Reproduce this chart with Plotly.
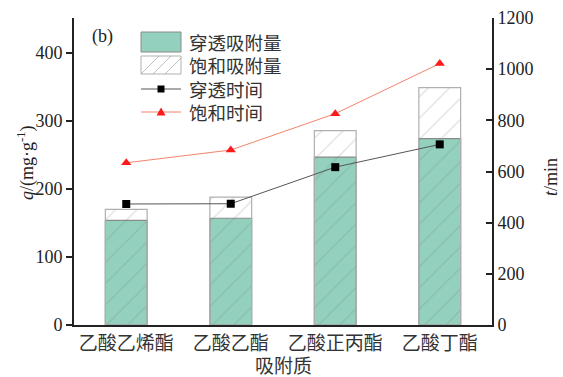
import plotly.graph_objects as go

categories = ["乙酸乙烯酯", "乙酸乙酯", "乙酸正丙酯", "乙酸丁酯"]
breakthrough_q = [154, 157, 247, 274]
saturation_q = [170, 188, 286, 349]
breakthrough_t = [473, 474, 617, 706]
saturation_t = [634, 684, 826, 1022]
legend_labels = ["穿透吸附量", "饱和吸附量", "穿透时间", "饱和时间"]

FONT = "Liberation Serif, Times New Roman, Noto Sans CJK SC, serif"
CJK = "Noto Sans CJK SC"
GREEN = "#93D1BE"

W, H = 563, 377
ML, MR, MT, MB = 74, 71, 18, 52
PW, PH = W - ML - MR, H - MT - MB


def px(x):
    return (x - ML) / PW


def py(y):
    return (H - MB - y) / PH


fig = go.Figure()
fig.add_trace(go.Bar(
    x=categories, y=breakthrough_q, name=legend_labels[0],
    marker=dict(color=GREEN, line=dict(color="#8a8a8a", width=1.2)),
    width=0.4,
))
fig.add_trace(go.Bar(
    x=categories, y=saturation_q, name=legend_labels[1],
    marker=dict(color="rgba(255,255,255,0)", line=dict(color="#b0b0b0", width=1.2),
                pattern=dict(shape="/", fgcolor="rgba(110,110,110,0.45)",
                             bgcolor="rgba(0,0,0,0)", size=15, solidity=0.08)),
    width=0.4,
))
fig.add_trace(go.Scatter(
    x=categories, y=breakthrough_t, name=legend_labels[2], yaxis="y2",
    mode="lines+markers", line=dict(color="#555555", width=1),
    marker=dict(symbol="square", size=8, color="black"),
))
fig.add_trace(go.Scatter(
    x=categories, y=saturation_t, name=legend_labels[3], yaxis="y2",
    mode="lines+markers", line=dict(color="#F4846C", width=1),
    marker=dict(symbol="triangle-up", size=9, color="#FF1A1A"),
))

# custom legend (decoration)
lx0, lx1 = 141, 181
rows = [42, 65, 89, 112]
shapes = []
shapes.append(dict(type="rect", xref="paper", yref="paper",
                   x0=px(lx0), x1=px(lx1), y0=py(rows[0] + 10), y1=py(rows[0] - 10),
                   fillcolor=GREEN, line=dict(color="#8a8a8a", width=1)))
shapes.append(dict(type="rect", xref="paper", yref="paper",
                   x0=px(lx0), x1=px(lx1), y0=py(rows[1] + 9), y1=py(rows[1] - 9),
                   fillcolor="white", line=dict(color="#b0b0b0", width=1)))
for a, b in [(lx0, lx0 + 18), (lx0 + 12, lx0 + 30), (lx0 + 24, lx1)]:
    yb = rows[1] + 9
    yt = rows[1] - 9
    if b - a < 18:
        yt = yb - (b - a)
    shapes.append(dict(type="line", xref="paper", yref="paper",
                       x0=px(a), x1=px(b), y0=py(yb), y1=py(yt),
                       line=dict(color="rgba(150,150,150,0.6)", width=1)))
shapes.append(dict(type="line", xref="paper", yref="paper",
                   x0=px(lx0), x1=px(lx1), y0=py(rows[2]), y1=py(rows[2]),
                   line=dict(color="#555555", width=1)))
shapes.append(dict(type="rect", xref="paper", yref="paper",
                   x0=px(157.5), x1=px(164.5), y0=py(rows[2] + 3.5), y1=py(rows[2] - 3.5),
                   fillcolor="black", line=dict(width=0)))
shapes.append(dict(type="line", xref="paper", yref="paper",
                   x0=px(lx0), x1=px(lx1), y0=py(rows[3]), y1=py(rows[3]),
                   line=dict(color="#F4846C", width=1)))
tri = "M {} {} L {} {} L {} {} Z".format(px(156.5), py(rows[3] + 3.5), px(165.5), py(rows[3] + 3.5),
                                         px(161), py(rows[3] - 4.5))
shapes.append(dict(type="path", xref="paper", yref="paper", path=tri,
                   fillcolor="#FF1A1A", line=dict(width=0)))

annotations = [dict(text="(b)", xref="paper", yref="paper", x=px(90), y=py(36),
                    xanchor="left", yanchor="middle", showarrow=False, font=dict(size=18))]
for lab, r in zip(legend_labels, rows):
    annotations.append(dict(text=lab, xref="paper", yref="paper", x=px(187), y=py(r),
                            xanchor="left", yanchor="middle", showarrow=False,
                            font=dict(size=18.5, family=CJK, color="#333")))
# axis titles
annotations.append(dict(text="吸附质", xref="paper", yref="paper", x=px(283), y=py(364),
                        xanchor="center", yanchor="middle", showarrow=False,
                        font=dict(size=19, family=CJK, color="#333")))
annotations.append(dict(text="<i>q</i>/(mg·g<sup>-1</sup>)", xref="paper", yref="paper",
                        x=px(26), y=py(163), xanchor="center", yanchor="middle",
                        textangle=-90, showarrow=False, font=dict(size=18)))
annotations.append(dict(text="<i>t</i>/min", xref="paper", yref="paper",
                        x=px(551), y=py(177), xanchor="center", yanchor="middle",
                        textangle=-90, showarrow=False, font=dict(size=18)))

fig.update_layout(
    width=W, height=H,
    margin=dict(l=ML, r=MR, t=MT, b=MB),
    paper_bgcolor="white", plot_bgcolor="white",
    barmode="overlay",
    font=dict(family=FONT, size=18, color="#222"),
    showlegend=False,
    xaxis=dict(
        showline=True, linecolor="#222", linewidth=2, ticks="", automargin=False,
        tickfont=dict(size=19, family=CJK, color="#333"),
        showgrid=False, zeroline=False,
    ),
    yaxis=dict(
        range=[0, 451.5], dtick=100, showline=True, linecolor="#222", linewidth=2,
        ticks="outside", ticklen=6, tickwidth=1.5, tickcolor="#222", automargin=False,
        showgrid=False, zeroline=False,
    ),
    yaxis2=dict(
        range=[0, 1200], dtick=200, overlaying="y", side="right",
        showline=True, linecolor="#222", linewidth=2, automargin=False,
        ticks="inside", ticklen=6, tickwidth=1.5, tickcolor="#222",
        showgrid=False, zeroline=False,
    ),
    shapes=shapes,
    annotations=annotations,
)

fig.write_html("out.html")
